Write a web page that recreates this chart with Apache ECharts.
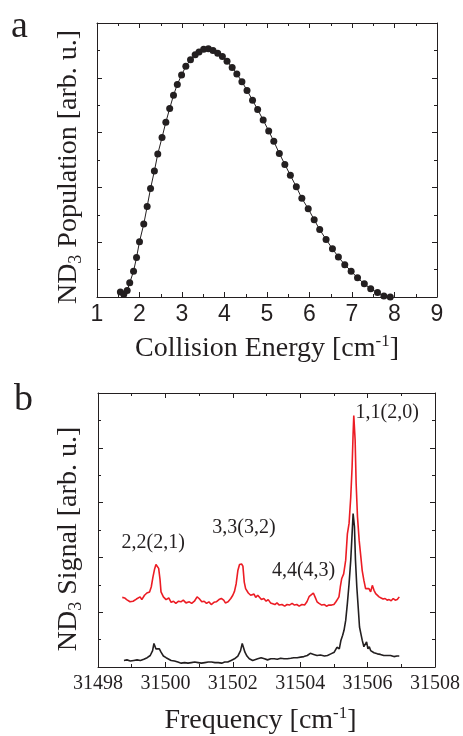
<!DOCTYPE html>
<html>
<head>
<meta charset="utf-8">
<script src="https://cdn.jsdelivr.net/npm/echarts@6/dist/echarts.min.js"></script>
<style>
html,body{margin:0;padding:0;background:#fff;}
#c{width:463px;height:736px;}
</style>
</head>
<body>
<div id="c"></div>
<script>
// ---- Panel a: ND3 population vs collision energy ----
const energy = [1.55,1.63,1.71,1.77,1.86,1.93,2.00,2.10,2.18,2.26,2.35,2.43,2.53,2.62,2.71,2.80,2.89,2.99,3.09,3.20,3.31,3.40,3.51,3.62,3.73,3.84,3.95,
  4.06,4.18,4.29,4.41,4.53,4.66,4.78,4.91,5.04,5.16,5.29,5.42,5.55,5.69,5.82,5.97,6.11,6.24,6.39,6.54,6.68,6.83,6.98,7.13,7.29,7.44,7.60,7.75,7.90,8.03];
const population = [0.09,0.05,0.12,0.26,0.47,0.72,1.01,1.33,1.65,1.98,2.30,2.61,2.91,3.19,3.44,3.68,3.88,4.05,4.21,4.33,4.42,4.47,4.52,4.53,4.50,4.45,4.39,
  4.30,4.19,4.07,3.93,3.77,3.59,3.42,3.23,3.03,2.84,2.62,2.42,2.22,2.01,1.80,1.61,1.41,1.23,1.05,0.88,0.73,0.59,0.47,0.35,0.24,0.15,0.08,0.02,0.00,-0.02];
const energyTicks = [1,2,3,4,5,6,7,8,9];

// ---- Panel b: ND3 signal vs frequency ([frequency, signal]) ----
const redSpectrum = [
  [31498.72,1.27],[31498.79,1.26],[31498.85,1.23],[31498.89,1.20],[31498.95,1.19],[31498.99,1.18],[31499.04,1.20],[31499.09,1.22],
  [31499.14,1.24],[31499.19,1.25],[31499.25,1.28],[31499.30,1.23],[31499.38,1.31],[31499.45,1.35],[31499.53,1.37],[31499.58,1.46],
  [31499.63,1.64],[31499.68,1.79],[31499.72,1.87],[31499.76,1.86],[31499.80,1.80],[31499.84,1.60],[31499.87,1.37],[31499.94,1.28],
  [31500.02,1.23],[31500.10,1.26],[31500.17,1.18],[31500.24,1.20],[31500.31,1.16],[31500.39,1.20],[31500.46,1.19],[31500.53,1.22],
  [31500.61,1.17],[31500.71,1.19],[31500.78,1.16],[31500.86,1.20],[31500.94,1.28],[31501.00,1.25],[31501.08,1.19],[31501.15,1.20],
  [31501.22,1.16],[31501.29,1.19],[31501.36,1.14],[31501.44,1.18],[31501.51,1.19],[31501.59,1.23],[31501.66,1.25],[31501.73,1.22],
  [31501.78,1.17],[31501.86,1.19],[31501.94,1.25],[31502.00,1.31],[31502.05,1.38],[31502.10,1.52],[31502.15,1.76],[31502.20,1.87],
  [31502.26,1.88],[31502.30,1.84],[31502.34,1.55],[31502.38,1.43],[31502.46,1.35],[31502.53,1.31],[31502.58,1.28],[31502.63,1.33],
  [31502.68,1.27],[31502.74,1.31],[31502.79,1.28],[31502.85,1.23],[31502.92,1.25],[31502.99,1.20],[31503.05,1.23],[31503.12,1.17],
  [31503.17,1.20],[31503.25,1.14],[31503.31,1.17],[31503.38,1.13],[31503.46,1.14],[31503.54,1.11],[31503.61,1.14],[31503.68,1.13],
  [31503.76,1.16],[31503.83,1.13],[31503.90,1.14],[31503.97,1.11],[31504.05,1.14],[31504.13,1.13],[31504.20,1.19],[31504.27,1.29],
  [31504.32,1.31],[31504.39,1.35],[31504.44,1.28],[31504.50,1.19],[31504.56,1.16],[31504.64,1.13],[31504.72,1.14],[31504.78,1.11],
  [31504.85,1.13],[31504.93,1.13],[31505.00,1.14],[31505.06,1.19],[31505.11,1.24],[31505.15,1.28],[31505.19,1.46],[31505.23,1.61],
  [31505.29,1.70],[31505.35,1.95],[31505.40,2.43],[31505.45,2.62],[31505.50,3.10],[31505.54,3.65],[31505.57,4.26],[31505.59,4.59],
  [31505.61,4.56],[31505.63,4.14],[31505.66,3.35],[31505.70,2.74],[31505.75,2.31],[31505.79,2.07],[31505.84,1.76],[31505.89,1.58],
  [31505.94,1.43],[31505.99,1.40],[31506.04,1.43],[31506.09,1.37],[31506.14,1.49],[31506.19,1.40],[31506.24,1.34],[31506.29,1.31],
  [31506.34,1.28],[31506.40,1.26],[31506.46,1.24],[31506.52,1.25],[31506.58,1.22],[31506.64,1.23],[31506.70,1.21],[31506.76,1.25],
  [31506.82,1.22],[31506.88,1.23],[31506.94,1.28]
];
const blackFreq = [31498.77,31498.86,31498.96,31499.06,31499.16,31499.26,31499.36,31499.46,31499.55,31499.62,31499.66,31499.69,31499.72,31499.76,31499.82,31499.87,31499.94,
  31500.02,31500.07,31500.17,31500.27,31500.37,31500.47,31500.57,31500.67,31500.77,31500.87,31500.97,31501.07,31501.17,31501.27,31501.37,31501.47,31501.57,31501.67,31501.76,31501.85,31501.95,
  31502.05,31502.15,31502.23,31502.28,31502.31,31502.36,31502.42,31502.49,31502.59,31502.74,31502.84,31502.94,
  31503.03,31503.13,31503.23,31503.32,31503.42,31503.52,31503.62,31503.72,31503.81,31503.91,31504.01,31504.11,31504.21,31504.30,31504.40,31504.50,31504.60,31504.72,31504.81,31504.91,
  31505.01,31505.09,31505.16,31505.21,31505.26,31505.30,31505.35,31505.40,31505.45,31505.50,31505.54,31505.57,31505.59,31505.61,31505.64,31505.68,31505.72,31505.76,31505.80,31505.84,31505.89,31505.94,31505.97,
  31506.01,31506.05,31506.09,31506.14,31506.19,31506.29,31506.38,31506.48,31506.58,31506.68,31506.78,31506.87,31506.94];
const blackSignal = [0.12,0.13,0.11,0.12,0.13,0.12,0.14,0.17,0.21,0.30,0.43,0.46,0.33,0.30,0.33,0.27,0.20,
  0.17,0.15,0.12,0.11,0.09,0.07,0.08,0.07,0.08,0.09,0.08,0.07,0.08,0.09,0.09,0.08,0.08,0.07,0.09,0.09,0.12,
  0.15,0.20,0.30,0.43,0.37,0.27,0.20,0.15,0.12,0.15,0.17,0.15,
  0.13,0.15,0.15,0.14,0.16,0.15,0.15,0.16,0.17,0.17,0.18,0.19,0.21,0.25,0.23,0.21,0.22,0.20,0.21,0.24,
  0.27,0.36,0.33,0.49,0.58,0.67,0.85,1.16,1.52,1.95,2.43,2.80,2.83,2.56,1.95,1.46,1.10,0.73,0.61,0.49,0.37,0.34,0.46,
  0.33,0.37,0.30,0.27,0.26,0.24,0.23,0.21,0.21,0.21,0.19,0.20,0.20];
const peakLabels = ['2,2(2,1)','3,3(3,2)','4,4(4,3)','1,1(2,0)'];
const peakLabelFreq = [31499.64,31502.33,31504.10,31506.58];
const peakLabelSignal = [2.27,2.55,1.76,4.64];

const pair = (xs, ys) => xs.map((x, i) => [x, ys[i]]);

const serif = 'Liberation Serif';
const sans = 'Liberation Sans';
const ink = '#231f20';

function frameX(gridIndex, min, max, interval, pos, labelCfg, nameCfg) {
  return Object.assign({
    type: 'value', gridIndex, min, max, interval, position: pos,
    axisLine: { show: true, onZero: false, lineStyle: { color: ink, width: 1 } },
    axisTick: { show: true, inside: true, length: 5, lineStyle: { color: ink } },
    minorTick: { show: true, splitNumber: 2, length: 3, lineStyle: { color: ink } },
    splitLine: { show: false },
    axisLabel: labelCfg || { show: false }
  }, nameCfg || {});
}

const option = {
  animation: false,
  backgroundColor: '#fff',
  grid: [
    { left: 97, top: 23, width: 340, height: 274 },
    { left: 98, top: 393, width: 340, height: 274 }
  ],
  xAxis: [
    frameX(0, 1, 9, 1, 'bottom',
      { show: true, color: ink, fontFamily: sans, fontSize: 23, margin: 6,
        formatter: v => energyTicks.includes(v) ? String(v) : '' },
      { name: 'Collision Energy [cm{sup|-1}]', nameLocation: 'middle', nameGap: 36,
        nameTextStyle: { fontFamily: serif, fontSize: 28, color: ink,
          rich: { sup: { fontFamily: serif, fontSize: 17, color: ink, padding: [0, 0, 14, 0] } } } }),
    frameX(0, 1, 9, 1, 'top'),
    frameX(1, 31498, 31508, 2, 'bottom',
      { show: true, color: ink, fontFamily: serif, fontSize: 20, margin: 7, formatter: v => String(v) },
      { name: 'Frequency [cm{sup|-1}]', nameLocation: 'middle', nameGap: 38,
        nameTextStyle: { fontFamily: serif, fontSize: 28, color: ink, padding: [0, 12, 0, 0],
          rich: { sup: { fontFamily: serif, fontSize: 17, color: ink, padding: [0, 0, 14, 0] } } } }),
    frameX(1, 31498, 31508, 2, 'top')
  ],
  yAxis: [
    frameX(0, 0, 5, 1, 'left', null,
      { name: 'ND{sub|3} Population [arb. u.]', nameLocation: 'middle', nameGap: 12, nameRotate: 90,
        nameTextStyle: { fontFamily: serif, fontSize: 28, color: ink, padding: [0, 14, 0, 0],
          rich: { sub: { fontFamily: serif, fontSize: 18, color: ink, padding: [14, 0, 0, 0] } } } }),
    frameX(0, 0, 5, 1, 'right'),
    frameX(1, 0, 5, 1, 'left', null,
      { name: 'ND{sub|3} Signal [arb. u.]', nameLocation: 'middle', nameGap: 13, nameRotate: 90,
        nameTextStyle: { fontFamily: serif, fontSize: 28, color: ink, padding: [0, 18, 0, 0],
          rich: { sub: { fontFamily: serif, fontSize: 18, color: ink, padding: [14, 0, 0, 0] } } } }),
    frameX(1, 0, 5, 1, 'right')
  ],
  series: [
    {
      type: 'line', xAxisIndex: 0, yAxisIndex: 0,
      data: pair(energy, population),
      symbol: 'circle', symbolSize: 7, showSymbol: true,
      lineStyle: { color: ink, width: 1 },
      itemStyle: { color: ink },
      clip: true
    },
    {
      type: 'line', xAxisIndex: 2, yAxisIndex: 2,
      data: pair(blackFreq, blackSignal),
      symbol: 'none',
      lineStyle: { color: ink, width: 1.6 }
    },
    {
      type: 'line', xAxisIndex: 2, yAxisIndex: 2,
      data: redSpectrum,
      symbol: 'none',
      lineStyle: { color: '#ec1c24', width: 1.6 },
      markPoint: {
        symbol: 'circle', symbolSize: 0,
        label: { show: true, position: 'inside', fontFamily: serif, fontSize: 20, color: ink,
          formatter: p => p.name },
        data: peakLabels.map((t, i) => ({ name: t, coord: [peakLabelFreq[i], peakLabelSignal[i]] }))
      }
    }
  ],
  graphic: [
    { type: 'text', left: 11, top: 8, style: { text: 'a', font: '38px "Liberation Serif"', fill: ink } },
    { type: 'text', left: 14, top: 381, style: { text: 'b', font: '38px "Liberation Serif"', fill: ink } }
  ]
};

const chart = echarts.init(document.getElementById('c'), null, { renderer: 'canvas' });
chart.setOption(option);
</script>
</body>
</html>
